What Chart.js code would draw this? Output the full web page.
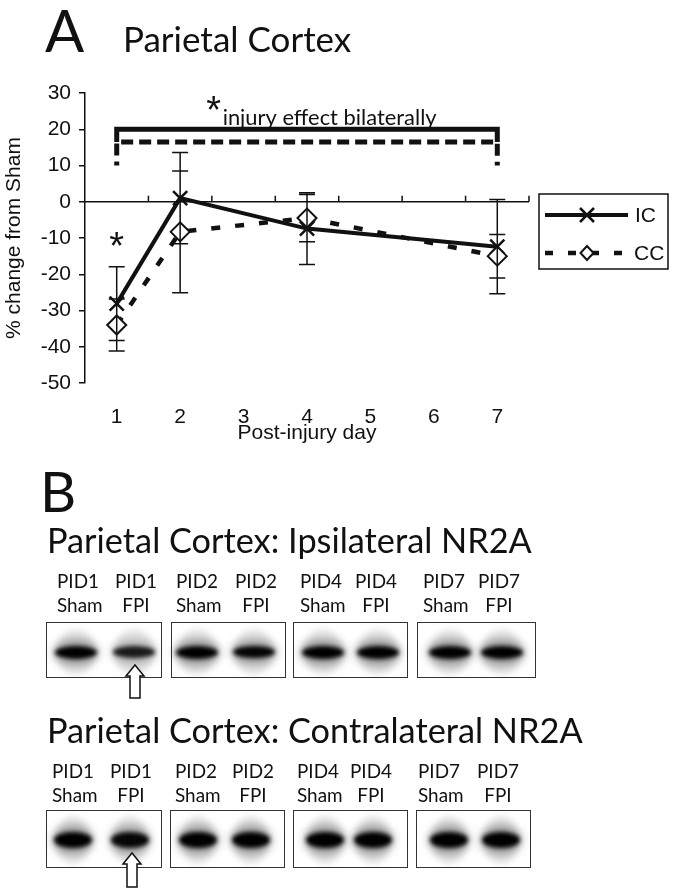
<!DOCTYPE html>
<html>
<head>
<meta charset="utf-8">
<script src="https://cdn.jsdelivr.net/npm/chart.js@4.4.0/dist/chart.umd.min.js"></script>
<style>
  body { margin: 0; background: #fff; width: 675px; height: 893px; position: relative; overflow: hidden; font-family: Lato, sans-serif; color: #111; }
  .t { position: absolute; line-height: 1; white-space: nowrap; }
  .lane { position: absolute; white-space: nowrap; line-height: 24px; }
  #wrap { position: absolute; left: 0; top: 0; width: 675px; height: 460px; }
  .box { position: absolute; border: 1.5px solid #333; background: #fff; box-sizing: border-box; }
  .blob { position: absolute; border-radius: 50%; }
  svg { position: absolute; left: 0; top: 0; }
</style>
</head>
<body>
<div id="wrap"><canvas id="chart"></canvas></div>

<script>
// ---- panel A data ----
const days = [1, 2, 4, 7];
const icMean = [-28.1, 1.0, -7.4, -12.4];
const icErr = [10.2, 12.6, 9.9, 13.0];
const ccMean = [-34.0, -8.3, -4.5, -15.0];
const ccErr = [7.2, 16.8, 6.5, 6.0];
const xTicks = [1, 2, 3, 4, 5, 6, 7];
const yTicks = [-50, -40, -30, -20, -10, 0, 10, 20, 30];
// significance bracket (day, % change)
const bracketSolid = [[1, 16.5], [1, 20], [7, 20], [7, 16.5]];
const bracketDashed = [[1, 10], [1, 16.5], [7, 16.5], [7, 10]];

// ---- panel B (blots) ----
const laneTop = ['PID1', 'PID1', 'PID2', 'PID2', 'PID4', 'PID4', 'PID7', 'PID7'];
const laneBottom = ['Sham', 'FPI', 'Sham', 'FPI', 'Sham', 'FPI', 'Sham', 'FPI'];
const ipsiBand = [1.0, 0.7, 1.0, 0.95, 1.0, 1.0, 1.0, 1.0];
const contraBand = [1.0, 0.9, 1.0, 1.0, 1.0, 1.0, 1.0, 1.0];

const ink = '#111';
const axisFont = 'Liberation Sans, Arial, sans-serif';

function pts(arr) { return arr.map(p => ({ x: p[0], y: p[1] })); }

const zeroAxis = {
  id: 'zeroAxis',
  beforeDatasetsDraw(chart) {
    const { ctx, chartArea, scales: { x, y } } = chart;
    const y0 = y.getPixelForValue(0);
    ctx.save();
    ctx.strokeStyle = ink;
    ctx.lineWidth = 1.5;
    ctx.beginPath();
    ctx.moveTo(chartArea.left, y0);
    ctx.lineTo(chartArea.right, y0);
    xTicks.forEach(v => {
      const px = x.getPixelForValue(v + 0.5);
      ctx.moveTo(px, y0);
      ctx.lineTo(px, y0 - 6);
    });
    ctx.stroke();
    ctx.restore();
  }
};

const errorBars = {
  id: 'errorBars',
  afterDatasetsDraw(chart) {
    const { ctx, scales: { x, y } } = chart;
    ctx.save();
    ctx.strokeStyle = ink;
    ctx.lineWidth = 1.5;
    ctx.beginPath();
    [[icMean, icErr], [ccMean, ccErr]].forEach(([m, e]) => {
      days.forEach((d, i) => {
        const px = x.getPixelForValue(d);
        const top = y.getPixelForValue(m[i] + e[i]);
        const bot = y.getPixelForValue(m[i] - e[i]);
        ctx.moveTo(px, top); ctx.lineTo(px, bot);
        ctx.moveTo(px - 8, top); ctx.lineTo(px + 8, top);
        ctx.moveTo(px - 8, bot); ctx.lineTo(px + 8, bot);
      });
    });
    ctx.stroke();
    ctx.restore();
  }
};

const notes = {
  id: 'notes',
  afterDraw(chart) {
    const { ctx, chartArea, scales: { x, y } } = chart;
    ctx.save();
    ctx.fillStyle = ink;
    ctx.textAlign = 'center';
    ctx.textBaseline = 'middle';
    ctx.font = '38px ' + axisFont;
    ctx.fillText('*', x.getPixelForValue(1), y.getPixelForValue(-12.8));
    ctx.fillText('*', x.getPixelForValue(2.53), y.getPixelForValue(24.5));
    // bracket caption, fitted to its width
    const cap = 'injury effect bilaterally';
    ctx.font = '100px Lato';
    const fs = 100 * 214 / ctx.measureText(cap).width;
    ctx.font = fs.toFixed(1) + 'px Lato';
    ctx.textAlign = 'left';
    ctx.textBaseline = 'alphabetic';
    ctx.fillText(cap, x.getPixelForValue(2.67), y.getPixelForValue(21.2));

    // legend
    const lx = chartArea.right + 10, ly = 194, lw = 129, lh = 75;
    ctx.lineWidth = 1.5;
    ctx.strokeStyle = ink;
    ctx.strokeRect(lx, ly, lw, lh);
    ctx.font = '21px ' + axisFont;
    ctx.textBaseline = 'middle';
    const r1 = ly + 21, r2 = ly + 59, mx = lx + 48;
    ctx.lineWidth = 4;
    ctx.beginPath(); ctx.moveTo(lx + 6, r1); ctx.lineTo(lx + 89, r1); ctx.stroke();
    ctx.lineWidth = 2.5;
    ctx.beginPath();
    ctx.moveTo(mx - 7, r1 - 7); ctx.lineTo(mx + 7, r1 + 7);
    ctx.moveTo(mx - 7, r1 + 7); ctx.lineTo(mx + 7, r1 - 7);
    ctx.stroke();
    ctx.fillText('IC', lx + 96, r1 + 1);
    ctx.lineWidth = 4.5;
    ctx.setLineDash([8, 15]);
    ctx.beginPath(); ctx.moveTo(lx + 6, r2); ctx.lineTo(lx + 89, r2); ctx.stroke();
    ctx.setLineDash([]);
    ctx.lineWidth = 2;
    ctx.fillStyle = '#fff';
    ctx.beginPath();
    ctx.moveTo(mx, r2 - 7); ctx.lineTo(mx + 6.5, r2); ctx.lineTo(mx, r2 + 7); ctx.lineTo(mx - 6.5, r2); ctx.closePath();
    ctx.fill(); ctx.stroke();
    ctx.fillStyle = ink;
    ctx.fillText('CC', lx + 95, r2 + 1);
    ctx.restore();
  }
};

new Chart(document.getElementById('chart'), {
  type: 'line',
  data: {
    datasets: [
      {
        label: 'IC',
        data: days.map((d, i) => ({ x: d, y: icMean[i] })),
        borderColor: ink, borderWidth: 4,
        pointStyle: 'crossRot', pointRadius: 10, pointBorderWidth: 2.5,
        pointBorderColor: ink, pointBackgroundColor: ink, order: 2
      },
      {
        label: 'CC',
        data: days.map((d, i) => ({ x: d, y: ccMean[i] })),
        borderColor: ink, borderWidth: 4.5, borderDash: [9, 15],
        pointStyle: 'rectRot', pointRadius: 9.5, pointBorderWidth: 2,
        pointBorderColor: ink, pointBackgroundColor: '#fff', order: 1
      },
      {
        label: 'bracket IC',
        data: pts(bracketSolid),
        borderColor: ink, borderWidth: 5, pointRadius: 0, order: 3
      },
      {
        label: 'bracket CC',
        data: pts(bracketDashed),
        borderColor: ink, borderWidth: 5, borderDash: [12, 6], borderDashOffset: 8,
        pointRadius: 0, order: 4
      }
    ]
  },
  options: {
    responsive: true,
    maintainAspectRatio: false,
    animation: false,
    devicePixelRatio: 1,
    layout: { padding: { top: 93, right: 146, left: 0, bottom: 0 } },
    plugins: { legend: { display: false }, tooltip: { enabled: false } },
    scales: {
      x: {
        type: 'linear', min: 0.5, max: 7.5,
        afterBuildTicks: s => { s.ticks = xTicks.map(v => ({ value: v })); },
        afterFit: s => { s.height = 77; },
        grid: { display: false, drawTicks: false },
        border: { display: false },
        ticks: { color: ink, padding: 22, font: { family: axisFont, size: 21 } },
        title: {
          display: true, text: 'Post-injury day', color: ink,
          font: { family: axisFont, size: 21 }, padding: { top: 0, bottom: 14 }
        }
      },
      y: {
        min: -50, max: 30,
        afterBuildTicks: s => { s.ticks = yTicks.map(v => ({ value: v })); },
        afterFit: s => { s.width = 85; },
        grid: { drawOnChartArea: false, tickLength: 6, color: ink, lineWidth: 1.5 },
        border: { color: ink, width: 1.5 },
        ticks: { color: ink, padding: 8, autoSkip: false, font: { family: axisFont, size: 21 } },
        title: {
          display: true, text: '% change from Sham', color: ink,
          font: { family: axisFont, size: 21 }, padding: { top: 2, bottom: 0 }
        }
      }
    }
  },
  plugins: [zeroAxis, errorBars, notes]
});

// ---- text helpers (Lato: baseline sits 0.887em below a line-height:1 box top) ----
const meas = document.createElement('canvas').getContext('2d');
function widthAt100(txt) { meas.font = '100px Lato'; return meas.measureText(txt).width; }

function addText(txt, left, baseline, opt) {
  const el = document.createElement('div');
  el.className = 't';
  el.textContent = txt;
  const fs = opt.width ? 100 * opt.width / widthAt100(txt) : opt.size;
  el.style.fontSize = fs.toFixed(1) + 'px';
  el.style.left = left + 'px';
  el.style.top = (baseline - 0.887 * fs).toFixed(1) + 'px';
  document.body.appendChild(el);
}

addText('A', 45, 52, { size: 58 });
addText('Parietal Cortex', 123, 52, { width: 228 });
addText('B', 40, 513, { size: 56 });

function blotPanel(cfg, strength) {
  addText(cfg.title, 47, cfg.titleBase, { width: cfg.titleW });
  const fs = 100 * 42 / widthAt100('PID1');
  laneTop.forEach((lab, i) => {
    const el = document.createElement('div');
    el.className = 'lane';
    el.style.fontSize = fs.toFixed(1) + 'px';
    el.style.left = cfg.labelX[i] + 'px';
    el.style.top = (cfg.labelBase - 12 - 0.387 * fs).toFixed(1) + 'px';
    el.style.textAlign = i % 2 ? 'center' : 'left';
    el.innerHTML = lab + '<br>' + laneBottom[i];
    document.body.appendChild(el);
  });
  cfg.boxX.forEach((bx, j) => {
    const b = document.createElement('div');
    b.className = 'box';
    Object.assign(b.style, { left: bx + 'px', top: cfg.boxTop + 'px', width: cfg.boxW[j] + 'px', height: cfg.boxH + 'px' });
    document.body.appendChild(b);
  });
  cfg.bandX.forEach((cx, i) => {
    const s = strength[i];
    const bw = cfg.bandW, bh = cfg.bandH * (0.6 + 0.4 * s);
    const layers = [
      { w: bw - 2, h: cfg.boxH - 10, a: 0.1, blur: 3 },
      { w: bw + 4, h: bh + 14, a: 0.32 * s, blur: 4 },
      { w: bw, h: bh, a: 0.55 + 0.45 * s, blur: 2 }
    ];
    layers.forEach(L => {
      const d = document.createElement('div');
      d.className = 'blob';
      Object.assign(d.style, {
        left: (cx - L.w / 2) + 'px', top: (cfg.bandY - L.h / 2) + 'px',
        width: L.w + 'px', height: L.h + 'px',
        background: 'rgba(0,0,0,' + L.a.toFixed(2) + ')', filter: 'blur(' + L.blur + 'px)'
      });
      document.body.appendChild(d);
    });
  });
  const ax = cfg.arrowX, t = cfg.arrowTip, bt = cfg.arrowEnd;
  const svg = document.createElementNS('http://www.w3.org/2000/svg', 'svg');
  svg.setAttribute('width', 675); svg.setAttribute('height', 893);
  svg.innerHTML = '<polygon points="' + [
    [ax, t], [ax + 9, t + 11], [ax + 5, t + 11], [ax + 5, bt], [ax - 5, bt], [ax - 5, t + 11], [ax - 9, t + 11]
  ].map(p => p.join(',')).join(' ') + '" fill="#fff" stroke="#111" stroke-width="1.5"/>';
  document.body.appendChild(svg);
}

blotPanel({
  title: 'Parietal Cortex: Ipsilateral NR2A', titleBase: 553, titleW: 485,
  labelBase: 588, labelX: [57, 115, 176, 235, 300, 355, 423, 478],
  boxX: [46, 171, 293, 417], boxW: [116, 115, 115, 119], boxTop: 622, boxH: 56,
  bandX: [76, 134, 197, 254, 323, 378, 450, 502], bandY: 652, bandW: 42, bandH: 13,
  arrowX: 135, arrowTip: 665, arrowEnd: 698
}, ipsiBand);

blotPanel({
  title: 'Parietal Cortex: Contralateral NR2A', titleBase: 743, titleW: 536,
  labelBase: 778, labelX: [52, 110, 175, 232, 297, 350, 418, 477],
  boxX: [46, 170, 293, 416], boxW: [116, 115, 115, 115], boxTop: 810, boxH: 58,
  bandX: [73, 130, 198, 251, 325, 373, 449, 501], bandY: 840, bandW: 38, bandH: 16,
  arrowX: 132, arrowTip: 853, arrowEnd: 887
}, contraBand);
</script>
</body>
</html>
